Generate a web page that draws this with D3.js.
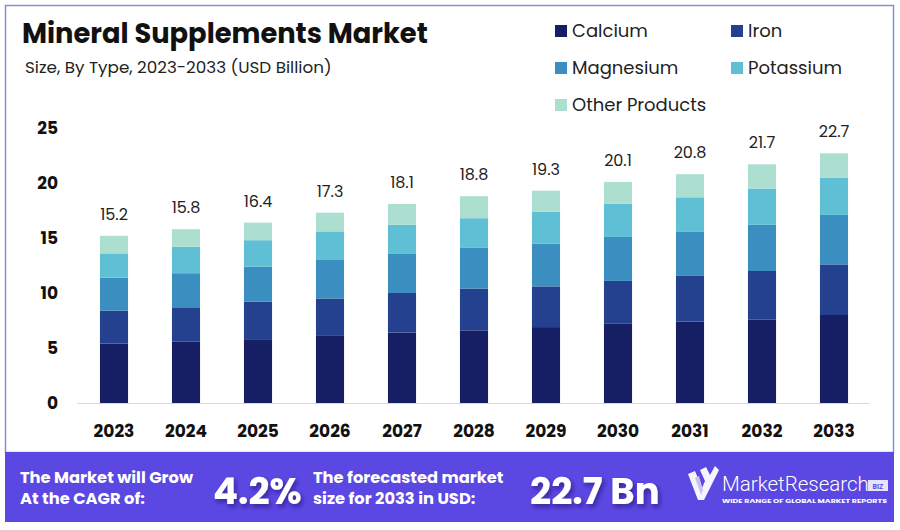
<!DOCTYPE html>
<html>
<head>
<meta charset="utf-8">
<script src="https://cdn.jsdelivr.net/npm/d3@7"></script>
<style>
  html, body { margin: 0; padding: 0; background: #ffffff; }
  svg { display: block; }
</style>
</head>
<body>
<svg id="chart" width="900" height="530"></svg>
<script>
const years = ["2023","2024","2025","2026","2027","2028","2029","2030","2031","2032","2033"];
const calcium   = [5.4, 5.6, 5.8, 6.1, 6.4, 6.6, 6.9, 7.2, 7.4, 7.6, 8.0];
const iron      = [3.0, 3.1, 3.4, 3.4, 3.6, 3.8, 3.7, 3.9, 4.2, 4.4, 4.6];
const magnesium = [3.0, 3.1, 3.2, 3.5, 3.6, 3.7, 3.9, 4.0, 4.0, 4.2, 4.5];
const potassium = [2.2, 2.4, 2.4, 2.6, 2.6, 2.7, 2.9, 3.0, 3.1, 3.3, 3.4];
const other     = [1.6, 1.6, 1.6, 1.7, 1.9, 2.0, 1.9, 2.0, 2.1, 2.2, 2.2];
const totals    = [15.2, 15.8, 16.4, 17.3, 18.1, 18.8, 19.3, 20.1, 20.8, 21.7, 22.7];
const seriesNames = ["Calcium", "Iron", "Magnesium", "Potassium", "Other Products"];
const seriesColors = ["#161f63", "#23418f", "#3a8fc0", "#5fbfd5", "#acdfcf"];
const yTicks = [0, 5, 10, 15, 20, 25];
const cagrText = "4.2%";
const forecastText = "22.7 Bn";

const svg = d3.select("#chart");
const font = "Poppins, 'Open Sans', 'DejaVu Sans', sans-serif";

// outer panel border
svg.append("rect").attr("x", 5.5).attr("y", 5.5).attr("width", 888).attr("height", 447)
  .attr("fill", "#fff").attr("stroke", "#7d95cc").attr("stroke-width", 1.5);

// title
svg.append("text").attr("x", 22).attr("y", 43)
  .attr("font-family", font).attr("font-weight", 700).attr("font-size", 27.3)
  .attr("fill", "#111").text("Mineral Supplements Market");
svg.append("text").attr("x", 25).attr("y", 73)
  .attr("font-family", font).attr("font-size", 16.8)
  .attr("fill", "#222").text("Size, By Type, 2023-2033 (USD Billion)");

// table for stack
const table = years.map((y, i) => ({
  year: y,
  "Calcium": calcium[i], "Iron": iron[i], "Magnesium": magnesium[i],
  "Potassium": potassium[i], "Other Products": other[i], total: totals[i]
}));
const stacked = d3.stack().keys(seriesNames)(table);

const x = d3.scaleBand().domain(years).range([78, 870]).paddingInner(0.61).paddingOuter(0.305);
const y = d3.scaleLinear().domain([0, 25]).range([403, 128]);

// baseline
svg.append("line").attr("x1", 77).attr("x2", 870).attr("y1", y(0) + 0.5).attr("y2", y(0) + 0.5)
  .attr("stroke", "#d9d9d9").attr("stroke-width", 1);

// y axis
const yAxis = svg.append("g").attr("transform", "translate(58,0)")
  .call(d3.axisLeft(y).tickValues(yTicks).tickSize(0).tickPadding(0).tickFormat(d3.format("d")));
yAxis.select(".domain").remove();
yAxis.selectAll("text").attr("font-family", font).attr("font-weight", 700)
  .attr("font-size", 17).attr("fill", "#111");

// x axis
const xAxis = svg.append("g").attr("transform", "translate(0,421)")
  .call(d3.axisBottom(x).tickSize(0).tickPadding(0));
xAxis.select(".domain").remove();
xAxis.selectAll("text").attr("font-family", font).attr("font-weight", 700)
  .attr("font-size", 17).attr("fill", "#111").attr("dy", "0.95em");

// bars
const groups = svg.append("g").selectAll("g").data(stacked).join("g")
  .attr("fill", (d, i) => seriesColors[i]);
groups.selectAll("rect").data(d => d).join("rect")
  .attr("x", d => x(d.data.year))
  .attr("width", x.bandwidth())
  .attr("y", d => y(d[1]))
  .attr("height", d => y(d[0]) - y(d[1]));

// value labels
svg.append("g").selectAll("text").data(table).join("text")
  .attr("x", d => x(d.year) + x.bandwidth() / 2)
  .attr("y", d => y(d.total) - 16)
  .attr("text-anchor", "middle")
  .attr("font-family", font).attr("font-size", 16).attr("fill", "#222")
  .text(d => d.total.toFixed(1));

// legend
const legendPos = [[555, 31], [731, 31], [555, 68], [731, 68], [555, 105]];
const lg = svg.append("g").selectAll("g").data(seriesNames).join("g")
  .attr("transform", (d, i) => `translate(${legendPos[i][0]},${legendPos[i][1]})`);
lg.append("rect").attr("x", 0).attr("y", -6).attr("width", 12).attr("height", 12)
  .attr("fill", (d, i) => seriesColors[i]);
lg.append("text").attr("x", 17).attr("y", 6)
  .attr("font-family", font).attr("font-size", 18).attr("fill", "#222").text(d => d);

// banner
const defs = svg.append("defs");
const f = defs.append("filter").attr("id", "shadow").attr("x", "-20%").attr("y", "-20%")
  .attr("width", "140%").attr("height", "160%");
f.append("feDropShadow").attr("dx", 2).attr("dy", 3).attr("stdDeviation", 2)
  .attr("flood-color", "#1a0f6b").attr("flood-opacity", 0.6);

svg.append("rect").attr("x", 5).attr("y", 452).attr("width", 889).attr("height", 70)
  .attr("fill", "#5b47e2");

const bannerText = (lines, xPos) => {
  lines.forEach((l, i) => svg.append("text").attr("font-family", font).attr("font-weight", 700)
    .attr("font-size", 16.3).attr("fill", "#fff")
    .attr("x", xPos).attr("y", 483 + i * 21).text(l));
};
bannerText(["The Market will Grow", "At the CAGR of:"], 20);
bannerText(["The forecasted market", "size for 2033 in USD:"], 313);

svg.append("text").attr("x", 213).attr("y", 504)
  .attr("font-family", font).attr("font-weight", 700).attr("font-size", 37)
  .attr("fill", "#fff").attr("filter", "url(#shadow)").text(cagrText);
svg.append("text").attr("x", 530).attr("y", 504)
  .attr("font-family", font).attr("font-weight", 700).attr("font-size", 37)
  .attr("fill", "#fff").attr("filter", "url(#shadow)").text(forecastText);

// logo
const logo = svg.append("g").attr("transform", "translate(688,466)");
logo.append("path").attr("d", "M0,8 L7,5 L14,22 L17,15 L12,4 L18,1 L22,9 L27,0 L31,4 L16,34 L10,34 Z")
  .attr("fill", "#ffffff").attr("opacity", 0.95);
logo.append("path").attr("d", "M7,12 L11,10 L15,24 L13,29 Z")
  .attr("fill", "#c9c1f5");
svg.append("text").attr("x", 722).attr("y", 491)
  .attr("font-family", "Roboto, 'Open Sans', sans-serif").attr("font-weight", 300).attr("font-size", 20.5)
  .attr("fill", "#fff")
  .text("MarketResearch");
svg.append("rect").attr("x", 868).attr("y", 480).attr("width", 20).attr("height", 11)
  .attr("fill", "#fff").attr("opacity", 0.85);
svg.append("text").attr("x", 878).attr("y", 488.5).attr("text-anchor", "middle")
  .attr("font-family", "Roboto, sans-serif").attr("font-weight", 700).attr("font-size", 7)
  .attr("fill", "#5b47e2").text("BIZ");
svg.append("text").attr("x", 722).attr("y", 502.5)
  .attr("font-family", font).attr("font-weight", 700).attr("font-size", 5.5)
  .attr("fill", "#fff").attr("textLength", 165).attr("lengthAdjust", "spacingAndGlyphs")
  .text("WIDE RANGE OF GLOBAL MARKET REPORTS");
</script>
</body>
</html>
